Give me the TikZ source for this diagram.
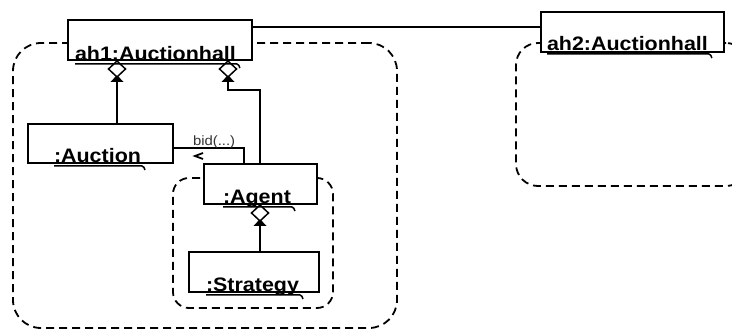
\documentclass[tikz,border=0pt]{standalone}
\usepackage{fontspec}
\setmainfont{Liberation Sans}
\newfontfamily\lblfont{Liberation Sans}[FakeStretch=1.1]
\usetikzlibrary{calc}
\begin{document}
\begin{tikzpicture}[x=1pt,y=-1pt,
  obj/.style={draw, line width=2pt, fill=white, inner sep=0pt, outer sep=0pt},
  region/.style={draw, dash pattern=on 8pt off 5pt, line width=1.8pt,
    rounded corners=#1, inner sep=0pt, outer sep=0pt},
  lbl/.style={font=\lblfont\bfseries\fontsize{19.5}{22}\selectfont,
    inner sep=0pt, outer sep=0pt, anchor=base west},
  msg/.style={font=\lblfont\fontsize{13.5}{15}\selectfont, text=black!80,
    inner sep=0pt, outer sep=0pt, anchor=base west},
  link/.style={line width=2pt},
  uline/.style={line width=1.5pt},
  aggr/.pic={
    \fill[black] (0,15) -- (6.5,22) -- (-6.5,22) -- cycle;
    \draw[line width=1.5pt, fill=white] (0,1) -- (8.5,9) -- (0,17) -- (-8.5,9) -- cycle;
  }]
\useasboundingbox (0,0) rectangle (732,331);

% containment regions
\node[region=28pt, minimum width=384pt, minimum height=285pt] (r1) at (205,185.5) {};
\begin{scope}
  \clip (0,0) rectangle (732,331);
  \node[region=22pt, minimum width=232pt, minimum height=143pt] (r2) at (632,114.5) {};
\end{scope}
\node[region=16pt, minimum width=160pt, minimum height=130pt] (r3) at (253,243) {};

% objects
\node[obj, minimum width=184pt, minimum height=40pt] (ah1) at (160,40) {};
\node[obj, minimum width=183pt, minimum height=40pt] (ah2) at (632.5,32) {};
\node[obj, minimum width=145pt, minimum height=39pt] (auction) at (100.5,143.5) {};
\node[obj, minimum width=113pt, minimum height=40pt] (agent) at (260.5,184) {};
\node[obj, minimum width=130pt, minimum height=40pt] (strategy) at (253.5,272) {};

% links
\coordinate (a1) at ($(ah1.north east)+(0,7.5)$);
\draw[link] (a1) -- (a1 -| ah2.west);

\coordinate (p1) at ($(auction.north west)+(89,0)$);
\draw[link] (p1) -- (p1 |- ah1.south);

\coordinate (p2) at ($(agent.north west)+(56,0)$);
\coordinate (p3) at ($(ah1.south west)+(160,0)$);
\draw[link] (p2) |- ($(p3)+(0,30)$) -- (p3);

\coordinate (p4) at (strategy.north -| p2);
\draw[link] (p4) -- (p4 |- agent.south);

\coordinate (m1) at ($(auction.east)+(0,4.5)$);
\draw[link] (m1) -| ($(agent.north west)+(40,0)$);

% aggregation ends
\pic at (p1 |- ah1.south) {aggr};
\pic at (p3) {aggr};
\pic at (p4 |- agent.south) {aggr};

% message
\node[msg] (bid) at ($(auction.east)+(20,2.5)$) {bid(...)};
\draw[line width=1.8pt] ($(auction.east)+(30,9.5)$) -- ($(auction.east)+(22,12.5)$)
  -- ($(auction.east)+(30,15.5)$);

% object names
\node[lbl] (t1) at (75,61) {ah1:Auctionhall};
\node[lbl] (t2) at (547,51) {ah2:Auctionhall};
\node[lbl] (t3) at (54,163) {:Auction};
\node[lbl] (t4) at (223,204) {:Agent};
\node[lbl] (t5) at (206,292) {:Strategy};
\foreach \t in {t1,t2,t3,t4,t5}
  \draw[uline] ($(\t.base west)+(0,3)$) -- ($(\t.base east)+(1,3)$)
    .. controls +(2,0) and +(-1,-2) .. ($(\t.base east)+(4,7)$);
\end{tikzpicture}
\end{document}
